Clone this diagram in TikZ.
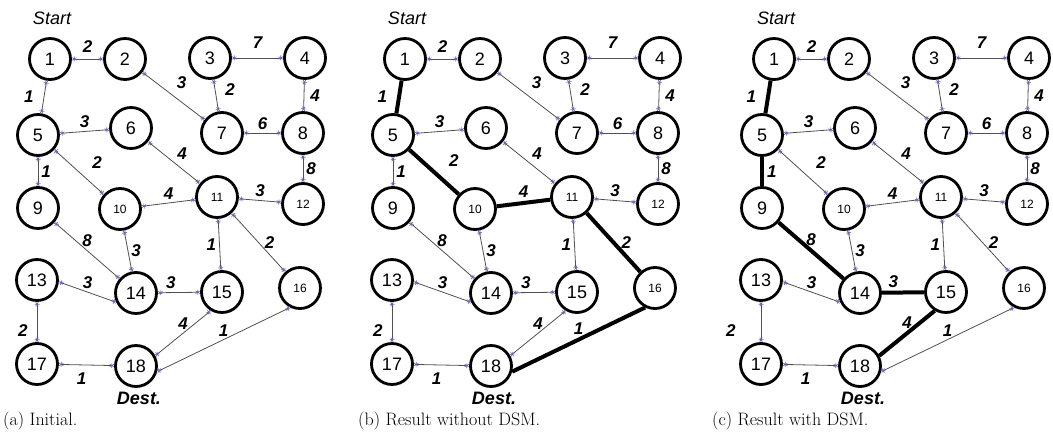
\documentclass[tikz,border=0pt]{standalone}
\usepackage{fontspec}
\newfontfamily\netfont{Liberation Sans}
\usetikzlibrary{arrows.meta}

\definecolor{tipcol}{RGB}{110,100,175}
\definecolor{linegray}{RGB}{80,80,80}

\tikzset{
	stn/.style={circle,draw,line width=2.8pt,minimum size=41pt,inner sep=0pt,
		font=\netfont\fontsize{18}{18}\selectfont},
	stnsmall/.style={stn,font=\netfont\fontsize{12}{12}\selectfont},
	edge/.style={draw=linegray,line width=.8pt,<->},
	sel/.style={draw=black,line width=4pt,arrows=-},
	wt/.style={font=\netfont\fontsize{17}{17}\selectfont\bfseries\itshape,inner sep=3pt},
	startlbl/.style={font=\netfont\fontsize{18}{18}\selectfont\itshape,inner sep=0pt},
	destlbl/.style={font=\netfont\fontsize{18}{18}\selectfont\bfseries\itshape,inner sep=0pt},
	caption/.style={font=\fontsize{18}{18}\selectfont,anchor=west,inner sep=0pt},
	>={Rays[n=6,length=5pt,line width=.6pt,color=tipcol]},
	% small moves of some weights
	lab1-2/.style={yshift=3pt},
	lab3-4/.style={yshift=6pt},
	lab1-5/.style={xshift=-7pt},
	lab2-7/.style={yshift=4pt},
	lab3-7/.style={xshift=6pt,yshift=6pt},
	lab4-8/.style={xshift=3pt},
	lab5-10/.style={xshift=10pt},
	lab11-16/.style={xshift=3pt},
	lab13-17/.style={xshift=-6pt,yshift=-9pt},
	lab17-18/.style={xshift=-5pt,yshift=-4pt}
}

% one network, node names get the prefix #1
\newcommand{\drawnet}[1]{%
	\foreach \n/\x/\y/\s in {1/50/59/stn,2/125/59/stn,3/210/58/stn,4/305/58/stn,
		5/38/135/stn,6/131/128/stn,7/222/133/stn,8/303/133/stn,
		9/38/208/stn,10/120/209/stnsmall,11/217/197/stnsmall,12/303/204/stnsmall,
		13/37/280/stn,14/136/293/stn,15/222/292/stn,16/300/288/stnsmall,
		17/37/364/stn,18/136/366/stn}
		\node[\s] (#1\n) at (\x,\y) {\n};
	\foreach \a/\b/\w/\s in {1/2/2/above,1/5/1/left,2/7/3/above right,3/4/7/above,
		3/7/2/right,4/8/4/right,5/6/3/above,5/9/1/right,5/10/2/above right,
		6/11/4/above right,7/8/6/above,8/12/8/right,10/11/4/above,11/12/3/above,
		9/14/8/above,10/14/3/right,11/15/1/left,11/16/2/right,
		14/15/3/above left,13/17/2/left,17/18/1/below}
		\draw[edge,sel\a-\b/.try] (#1\a) -- node[wt,\s,lab\a-\b/.try] {\w} (#1\b);
	% these three leave the circles off their centre line
	\draw[edge,sel13-14/.try] (#113.-5) -- node[wt,above] {3} (#114.-155);
	\draw[edge,sel15-18/.try] (#115.-121) -- node[wt,above] {4} (#118.28);
	\draw[edge,sel16-18/.try] (#116.-117) -- node[wt,above] {1} (#118.-15);
	\node[startlbl] (#1start) at (52,18) {Start};
	\node[destlbl] (#1dest) at (139,398) {Dest.};
}

\begin{document}
\begin{tikzpicture}[x=1pt,y=-1pt]
	\path[use as bounding box] (0,0) rectangle (1053,441);
	% (a) initial
	\begin{scope}
		\drawnet{a}
	\end{scope}
	% (b) without DSM
	\begin{scope}[xshift=355pt]
		\tikzset{sel1-5/.style=sel,sel5-10/.style=sel,sel10-11/.style=sel,
			sel11-16/.style=sel,sel16-18/.style=sel}
		\drawnet{b}
	\end{scope}
	% (c) with DSM
	\begin{scope}[xshift=724pt]
		\tikzset{sel1-5/.style=sel,sel5-9/.style=sel,sel9-14/.style=sel,
			sel14-15/.style=sel,sel15-18/.style=sel,
			lab13-17/.style={xshift=-22pt,yshift=-9pt}}
		\drawnet{c}
	\end{scope}
	\node[caption] (capa) at (3,421) {(a) Initial.};
	\node[caption] (capb) at (358,421) {(b) Result without DSM.};
	\node[caption] (capc) at (712,421) {(c) Result with DSM.};
\end{tikzpicture}
\end{document}
